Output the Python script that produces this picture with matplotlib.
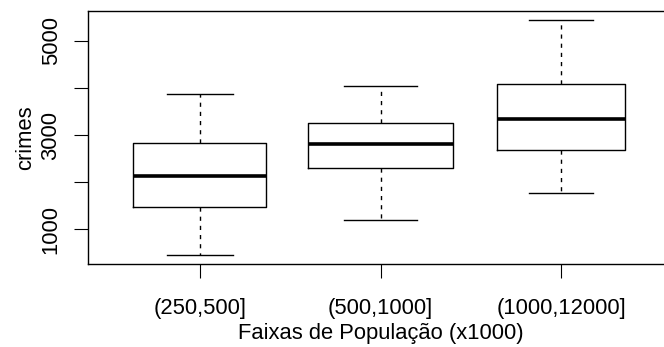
import matplotlib
matplotlib.use('Agg')
import matplotlib.pyplot as plt

# values (R style boxplot, varwidth)
groups = ['(250,500]', '(500,1000]', '(1000,12000]']
whislo = [459, 1189, 1762]
q1 = [1471, 2306, 2682]
med = [2136, 2803, 3333]
q3 = [2837, 3248, 4089]
whishi = [3864, 4040, 5442]
box_widths = [0.737, 0.80, 0.713]
y_ticks = [1000, 2000, 3000, 4000, 5000]
y_ticklabels = ['1000', '', '3000', '', '5000']

plt.rcParams['font.family'] = ['Liberation Sans', 'DejaVu Sans']
plt.rcParams['font.size'] = 15.8

fig = plt.figure(figsize=(6.64, 3.47), dpi=100)
ax = fig.add_axes([88 / 664, 83 / 347, 585 / 664, 253.3 / 347])

stats = []
for i, g in enumerate(groups):
    stats.append({'label': g, 'whislo': whislo[i], 'q1': q1[i], 'med': med[i],
                  'q3': q3[i], 'whishi': whishi[i], 'fliers': []})

pos = list(range(1, len(groups) + 1))
ax.bxp(stats, positions=pos, widths=box_widths, showfliers=False,
       capwidths=[w / 2 for w in box_widths],
       boxprops=dict(color='black', linewidth=1.0),
       whiskerprops=dict(color='black', linewidth=1.0, linestyle=(0, (3.0, 3.6))),
       capprops=dict(color='black', linewidth=1.0),
       medianprops=dict(color='black', linewidth=2.6, solid_capstyle='butt'))

n = len(groups)
ax.set_xlim(0.5 - 0.04 * n, n + 0.5 + 0.04 * n)
lo, hi = min(whislo), max(whishi)
pad = 0.04 * (hi - lo)
ax.set_ylim(lo - pad, hi + pad)

ax.set_yticks(y_ticks)
ax.set_yticklabels(y_ticklabels)
for t in ax.get_yticklabels():
    t.set_rotation(90)
    t.set_va('center')
    t.set_ha('right')
ax.set_xticks(pos)
ax.set_xticklabels(groups)

ax.tick_params(axis='both', length=10, width=0.8, color='black', direction='out')
ax.tick_params(axis='x', pad=14.5)
ax.tick_params(axis='y', pad=9)
for s in ax.spines.values():
    s.set_linewidth(1.0)
    s.set_color('black')

ax.set_xlabel('Faixas de População (x1000)', labelpad=3)
ax.set_ylabel('crimes', labelpad=3)

fig.savefig('out.png', dpi=100)
